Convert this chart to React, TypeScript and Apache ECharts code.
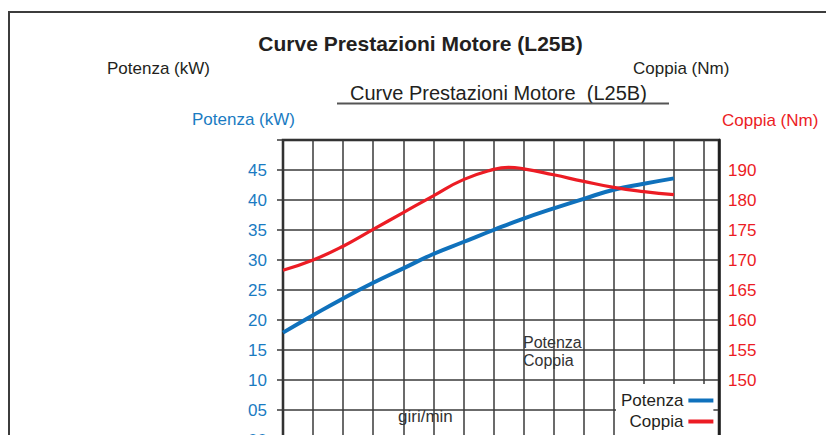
import React, { useEffect, useRef } from "react";
import * as echarts from "echarts";

const potenzaRpm = [1000, 1500, 2000, 2500, 3000, 3500, 4000, 4500, 5000, 5500, 6000, 6500, 7000, 7500];
const potenzaKW = [17.9, 20.8, 23.6, 26.2, 28.6, 31.0, 33.0, 35.0, 36.9, 38.6, 40.2, 41.7, 42.7, 43.6];
const coppiaRpm = [1000, 1500, 2000, 2500, 3000, 3500, 4000, 4500, 4750, 5000, 5500, 6000, 6500, 7000, 7500];
const coppiaNm = [168.3, 170.0, 172.3, 175.1, 177.9, 180.7, 183.4, 185.1, 185.45, 185.2, 184.2, 183.1, 182.1, 181.4, 180.9];

const potenzaTickValues = [0, 5, 10, 15, 20, 25, 30, 35, 40, 45];
const potenzaTickLabels = ["00", "05", "10", "15", "20", "25", "30", "35", "40", "45"];
const coppiaTickValues = [150, 155, 160, 165, 170, 175, 180, 185];
const coppiaTickLabels = ["150", "155", "160", "165", "170", "175", "180", "190"];

const seriesNames = ["Potenza", "Coppia"];

const FONT = '"Liberation Sans", Arial, Helvetica, sans-serif';
const BLUE_TEXT = "#1a7bc2";
const BLUE_LINE = "#0f71bc";
const RED = "#ec1c24";
const DARK = "#231f20";
const GRID = "#3a3a3a";
const BORDER = "#1e1e1e";

export default function App() {
  const ref = useRef<HTMLDivElement>(null);
  useEffect(() => {
    if (!ref.current) return;
    const chart = echarts.init(ref.current, undefined, { renderer: "svg" });
    const txt = (text: string, x: number, y: number, size: number, fill: string, align = "left", weight = "normal") => ({
      type: "text",
      x,
      y,
      silent: true,
      style: {
        text,
        fill,
        fontSize: size,
        fontFamily: FONT,
        fontWeight: weight,
        align,
        verticalAlign: "middle",
      },
    });
    chart.setOption({
      animation: false,
      textStyle: { fontFamily: FONT },
      grid: {
        left: 283,
        top: 140,
        width: 436,
        height: 300,
        show: true,
        borderColor: BORDER,
        borderWidth: 2.5,
        backgroundColor: "transparent",
      },
      xAxis: {
        type: "value",
        min: 1000,
        max: 8250,
        interval: 500,
        axisLine: { show: false },
        axisTick: { show: false },
        axisLabel: { show: false },
        splitLine: { show: true, lineStyle: { color: GRID, width: 1.5 } },
      },
      yAxis: [
        {
          type: "value",
          min: 0,
          max: 50,
          interval: 5,
          position: "left",
          axisLine: { show: false },
          axisTick: { show: true, length: 6, lineStyle: { color: GRID, width: 1.5 } },
          axisLabel: {
            margin: 16,
            color: BLUE_TEXT,
            fontSize: 17,
            fontFamily: FONT,
            formatter: (v: number) => {
              const i = potenzaTickValues.indexOf(v);
              return i >= 0 ? potenzaTickLabels[i] : "";
            },
          },
          splitLine: { show: true, lineStyle: { color: GRID, width: 1.5 } },
        },
        {
          type: "value",
          min: 140,
          max: 190,
          interval: 5,
          position: "right",
          z: 6,
          axisLine: { show: true, lineStyle: { color: BORDER, width: 2.5 } },
          axisTick: { show: false },
          axisLabel: {
            margin: 9,
            color: RED,
            fontSize: 17,
            fontFamily: FONT,
            formatter: (v: number) => {
              const i = coppiaTickValues.indexOf(v);
              return i >= 0 ? coppiaTickLabels[i] : "";
            },
          },
          splitLine: { show: false },
        },
      ],
      legend: {
        data: seriesNames,
        orient: "vertical",
        left: 616,
        top: 384,
        align: "right",
        icon: "rect",
        itemWidth: 25,
        itemHeight: 4,
        itemGap: 4,
        padding: [8, 0, 14, 5],
        backgroundColor: "#ffffff",
        selectedMode: false,
        textStyle: { fontSize: 17, color: DARK, fontFamily: FONT },
      },
      series: [
        {
          name: seriesNames[0],
          type: "line",
          yAxisIndex: 0,
          data: potenzaRpm.map((r, i) => [r, potenzaKW[i]]),
          smooth: 0.5,
          symbol: "none",
          lineStyle: { color: BLUE_LINE, width: 4 },
          itemStyle: { color: BLUE_LINE },
        },
        {
          name: seriesNames[1],
          type: "line",
          yAxisIndex: 1,
          data: coppiaRpm.map((r, i) => [r, coppiaNm[i]]),
          smooth: 0.5,
          symbol: "none",
          lineStyle: { color: RED, width: 3.2 },
          itemStyle: { color: RED },
        },
      ],
      graphic: [
        {
          type: "rect",
          silent: true,
          z: -10,
          shape: { x: 9, y: 12, width: 900, height: 600 },
          style: { fill: "none", stroke: "#3c3c3c", lineWidth: 2 },
        },
        txt("Curve Prestazioni Motore (L25B)", 420.5, 43.5, 21, DARK, "center", "bold"),
        txt("Potenza (kW)", 107, 68, 17, DARK),
        txt("Coppia (Nm)", 633, 68, 17, DARK),
        txt("Curve Prestazioni Motore  (L25B)", 350, 92.5, 20, DARK),
        {
          type: "line",
          silent: true,
          shape: { x1: 337, y1: 103.5, x2: 669, y2: 103.5 },
          style: { stroke: "#555555", lineWidth: 2 },
        },
        txt("Potenza (kW)", 192, 119.5, 17, BLUE_TEXT),
        txt("Coppia (Nm)", 722, 120, 17, RED),
        txt("Potenza", 523, 342, 16, "#333333"),
        txt("Coppia", 523, 360, 16, "#333333"),
        txt("giri/min", 398, 416.5, 17, "#333333"),
      ],
    });
    return () => chart.dispose();
  }, []);
  return (
    <div
      style={{ position: "fixed", left: 0, top: 0, width: 826, height: 435, overflow: "hidden", background: "#ffffff" }}
    >
      <div ref={ref} style={{ width: 826, height: 500 }} />
    </div>
  );
}
